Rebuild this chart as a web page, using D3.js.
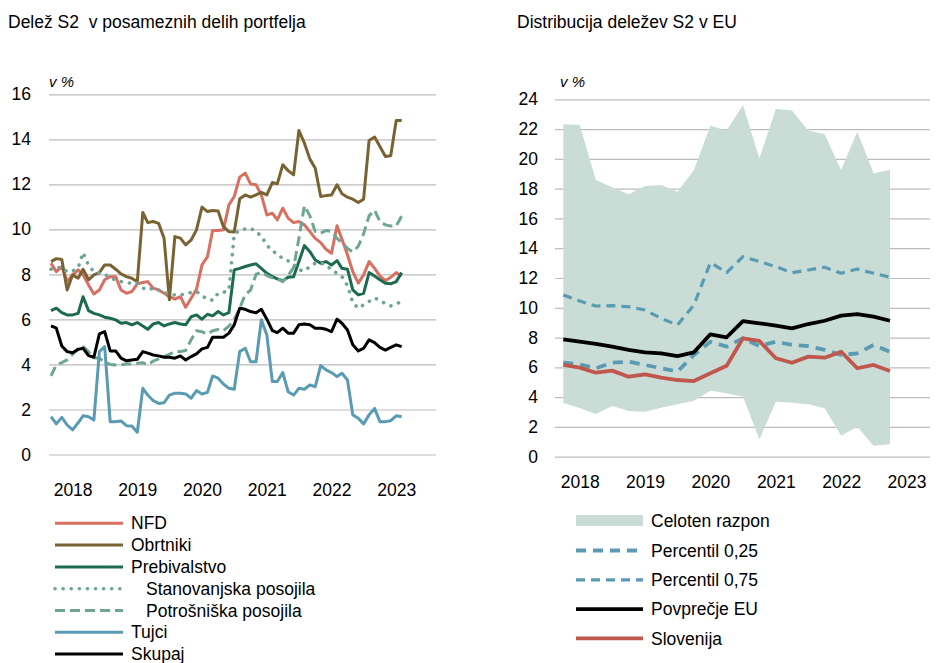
<!DOCTYPE html>
<html><head><meta charset="utf-8">
<script src="https://cdn.jsdelivr.net/npm/d3@7"></script>
<style>
body{margin:0;background:#fff}
svg{display:block}
text{font-family:"Liberation Sans",Arial,sans-serif;fill:#000}
</style>
</head><body>
<svg id="c" width="939" height="663"></svg>
<script>
// ---------- LEFT CHART DATA (monthly, Sep 2017 – Feb 2023) ----------
const months = d3.timeMonth.range(new Date(2017, 8, 1), new Date(2023, 2, 1));
const leftYTicks = [0, 2, 4, 6, 8, 10, 12, 14, 16];
const leftYears = [2018, 2019, 2020, 2021, 2022, 2023];
const nfd = [8.5,8.12,8.35,7.68,7.98,8.2,7.98,7.53,7.13,7.31,7.76,7.9,7.9,7.31,7.16,7.24,7.58,7.64,7.68,7.39,7.31,7.16,7.01,6.9,7.01,6.54,6.94,7.34,8.42,8.79,9.95,9.95,9.98,11.09,11.46,12.32,12.5,12.02,11.98,11.53,10.64,10.72,10.42,10.94,10.5,10.3,10.35,10.2,9.9,9.6,9.41,9.12,8.94,10.16,9.56,8.87,8.12,7.61,7.98,8.57,8.27,7.93,7.72,7.87,8.08,7.93];
const obrtniki = [8.57,8.7,8.66,7.31,7.98,7.83,8.23,7.76,7.98,8.08,8.42,8.42,8.23,8.02,7.9,7.83,7.68,10.75,10.3,10.35,10.27,9.61,6.87,9.68,9.61,9.31,9.53,9.98,10.99,10.79,10.84,10.82,10.12,9.9,9.88,11.36,11.53,11.43,11.53,11.64,11.53,12.08,12.02,12.87,12.61,12.42,14.39,13.83,13.12,12.72,11.46,11.5,11.53,11.98,11.58,11.43,11.34,11.19,11.34,13.95,14.1,13.68,13.24,13.27,14.84,14.84];
const prebivalstvo = [6.39,6.5,6.3,6.2,6.2,6.27,7.01,6.39,6.27,6.2,6.1,6.05,5.98,5.83,5.86,5.76,5.86,5.71,5.56,5.8,5.86,5.71,5.8,5.86,5.8,5.76,6.12,6.2,6.01,6.23,6.16,6.35,6.2,6.3,8.2,8.27,8.35,8.42,8.47,8.27,8.05,7.9,7.8,7.72,7.87,7.9,8.57,9.28,9.01,8.64,8.5,8.57,8.42,8.61,8.27,8.23,7.31,7.09,7.16,8.08,7.93,7.76,7.61,7.58,7.68,8.08];
const stanovanjska = [8.23,8.3,8.3,8.12,8.15,8.3,8.97,8.4,8.12,8.05,8.0,7.85,7.75,7.68,7.63,7.61,7.61,7.4,7.31,7.39,7.3,7.22,7.1,7.09,7.09,7.13,7.2,7.24,7.05,6.9,6.85,7.16,7.2,7.3,9.8,9.95,10.02,10.05,9.9,9.7,9.3,9.05,8.9,8.7,8.6,8.45,8.2,8.15,8.35,8.5,8.5,8.42,8.2,8.05,7.9,7.5,6.75,6.5,6.65,6.8,6.95,6.85,6.7,6.6,6.7,6.78];
const potrosniska = [3.49,3.98,4.08,4.2,4.45,4.7,4.79,4.57,4.3,4.28,4.1,4.0,3.98,3.98,4.02,4.02,4.05,4.08,3.98,4.15,4.25,4.35,4.45,4.57,4.57,4.62,5.1,5.5,5.45,5.35,5.5,5.55,5.5,5.7,6.0,6.5,7.1,7.3,8.0,8.1,7.95,7.85,7.8,7.68,7.95,8.3,9.6,11.05,10.6,9.9,9.83,9.95,9.9,9.6,9.4,9.15,9.0,9.25,9.8,10.6,10.85,10.35,10.2,10.15,10.15,10.6];
const tujci = [1.68,1.36,1.65,1.31,1.09,1.41,1.72,1.68,1.53,4.57,4.79,1.46,1.46,1.49,1.28,1.27,0.99,2.94,2.64,2.39,2.27,2.3,2.64,2.72,2.72,2.69,2.5,2.84,2.69,2.76,3.49,3.39,3.13,2.94,2.9,4.57,4.72,4.12,4.12,5.98,5.31,3.24,3.24,3.64,2.79,2.64,2.94,2.9,3.09,3.01,3.95,3.76,3.64,3.46,3.61,3.31,1.76,1.61,1.36,1.76,2.05,1.46,1.46,1.5,1.72,1.68];
const skupaj = [5.71,5.61,4.82,4.57,4.52,4.67,4.72,4.39,4.32,5.36,5.46,4.6,4.6,4.28,4.16,4.2,4.23,4.57,4.5,4.42,4.38,4.32,4.32,4.28,4.38,4.2,4.35,4.47,4.69,4.76,5.21,5.21,5.21,5.39,5.76,6.5,6.45,6.35,6.3,6.45,6.01,5.5,5.41,5.61,5.39,5.39,5.76,5.8,5.76,5.61,5.61,5.56,5.46,6.01,5.83,5.53,4.87,4.6,4.72,5.09,4.97,4.76,4.64,4.76,4.87,4.79];

// ---------- RIGHT CHART DATA (quarterly, Q4 2017 – Q4 2022) ----------
const quarters = d3.timeMonth.every(3).range(new Date(2017, 9, 1), new Date(2022, 10, 1));
const rightYTicks = [0, 2, 4, 6, 8, 10, 12, 14, 16, 18, 20, 22, 24];
const rightYears = [2018, 2019, 2020, 2021, 2022, 2023];
const euMax = [22.32,22.28,18.58,18.1,17.62,18.18,18.25,17.8,19.25,22.23,21.9,23.62,20.04,23.35,23.24,21.9,21.65,19.25,21.83,19.03,19.25];
const euMin = [3.63,3.25,2.87,3.4,3.07,3.02,3.29,3.52,3.76,4.43,4.26,4.03,1.17,3.69,3.63,3.52,3.25,1.41,2.01,0.74,0.83];
const p25 = [6.31,6.2,5.94,6.31,6.38,6.16,5.94,5.71,6.83,7.72,7.39,7.95,7.43,7.72,7.5,7.43,7.17,6.83,6.94,7.5,7.05];
const p75 = [10.86,10.45,10.12,10.14,10.07,9.85,9.29,8.84,10.19,13.03,12.36,13.43,13.1,12.76,12.36,12.54,12.72,12.32,12.6,12.32,12.05];
const euMean = [7.88,7.72,7.57,7.39,7.17,7.01,6.94,6.76,7.01,8.22,8.02,9.11,8.96,8.8,8.62,8.91,9.13,9.47,9.58,9.4,9.13];
const slovenija = [6.16,5.98,5.64,5.78,5.37,5.53,5.31,5.15,5.08,5.6,6.11,7.95,7.77,6.61,6.31,6.72,6.65,7.05,5.94,6.16,5.76];

const svg = d3.select("#c");
const GRID = "#bcbcbc";
const FS = 17.5;

// ================= LEFT CHART =================
const lx = d3.scaleTime().domain([months[0], months[months.length - 1]]).range([51, 401.7]);
const ly = d3.scaleLinear().domain([0, 16]).range([454.5, 94.3]);

svg.append("text").attr("x", 8).attr("y", 28).attr("xml:space", "preserve")
  .style("font-size", "17.5px").style("white-space", "pre")
  .text("Delež S2  v posameznih delih portfelja");
svg.append("text").attr("x", 49).attr("y", 87).style("font-size", "15px").style("font-style", "italic")
  .text("v %");

const lyAxis = svg.append("g").attr("transform", "translate(49,0)")
  .call(d3.axisLeft(ly).tickValues(leftYTicks).tickSize(-387).tickPadding(18).tickFormat(d3.format("d")));
lyAxis.select(".domain").remove();
lyAxis.selectAll("line").attr("stroke", GRID).attr("stroke-width", 1.2);
lyAxis.selectAll("text").style("font-size", FS + "px").attr("font-family", null);

const lxAxis = svg.append("g").attr("transform", "translate(0,454.5)")
  .call(d3.axisBottom(lx).tickValues(leftYears.map(y => new Date(y, 0, 1))).tickSize(0).tickPadding(29).tickFormat(d3.timeFormat("%Y")));
lxAxis.select(".domain").remove();
lxAxis.selectAll("text").style("font-size", FS + "px").attr("font-family", null);

const leftSeries = [
  {name: "NFD", data: nfd, color: "#d86f61", w: 3, dash: null},
  {name: "Obrtniki", data: obrtniki, color: "#7a6333", w: 3, dash: null},
  {name: "Prebivalstvo", data: prebivalstvo, color: "#1d6b4f", w: 3, dash: null},
  {name: "Stanovanjska posojila", data: stanovanjska, color: "#6fa596", w: 3.6, dash: "0.1,8", cap: "round", indent: true},
  {name: "Potrošniška posojila", data: potrosniska, color: "#6fa596", w: 3, dash: "10,5", indent: true},
  {name: "Tujci", data: tujci, color: "#5a9bb4", w: 3, dash: null},
  {name: "Skupaj", data: skupaj, color: "#000000", w: 3, dash: null}
];
const lline = d3.line().x((d, i) => lx(months[i])).y(d => ly(d));
leftSeries.forEach(s => {
  svg.append("path").datum(s.data).attr("d", lline)
    .attr("fill", "none").attr("stroke", s.color).attr("stroke-width", s.w)
    .attr("stroke-linejoin", "round")
    .attr("stroke-linecap", s.cap || "butt")
    .attr("stroke-dasharray", s.dash);
});

// Left legend
leftSeries.forEach((s, i) => {
  const y = 523.3 + i * 21.8;
  svg.append("line").attr("x1", 55).attr("x2", 123).attr("y1", y).attr("y2", y)
    .attr("stroke", s.color).attr("stroke-width", s.w)
    .attr("stroke-linecap", s.cap || "butt")
    .attr("stroke-dasharray", s.dash);
  svg.append("text").attr("x", s.indent ? 146 : 131).attr("y", y).attr("dy", "0.35em")
    .style("font-size", FS + "px").text(s.name);
});

// ================= RIGHT CHART =================
const rx = d3.scaleTime().domain([quarters[0], quarters[quarters.length - 1]]).range([563.3, 890]);
const ry = d3.scaleLinear().domain([0, 24]).range([456.7, 99.3]);

svg.append("text").attr("x", 517).attr("y", 28).style("font-size", "17.5px")
  .text("Distribucija deležev S2 v EU");
svg.append("text").attr("x", 560).attr("y", 87).style("font-size", "15px").style("font-style", "italic")
  .text("v %");

const ryAxis = svg.append("g").attr("transform", "translate(555,0)")
  .call(d3.axisLeft(ry).tickValues(rightYTicks).tickSize(-375).tickPadding(17).tickFormat(d3.format("d")));
ryAxis.select(".domain").remove();
ryAxis.selectAll("line").attr("stroke", GRID).attr("stroke-width", 1.2);
ryAxis.selectAll("text").style("font-size", FS + "px").attr("font-family", null);

const rxAxis = svg.append("g").attr("transform", "translate(0,456.7)")
  .call(d3.axisBottom(rx).tickValues(rightYears.map(y => new Date(y, 0, 1))).tickSize(0).tickPadding(19).tickFormat(d3.timeFormat("%Y")));
rxAxis.select(".domain").remove();
rxAxis.selectAll("text").style("font-size", FS + "px").attr("font-family", null);

const AREA = "#c9ddd6";
const area = d3.area().x((d, i) => rx(quarters[i])).y0((d, i) => ry(euMin[i])).y1(d => ry(d));
svg.append("path").datum(euMax).attr("d", area).attr("fill", AREA);

const rightSeries = [
  {name: "Percentil 0,25", data: p25, color: "#5a9bb4", w: 3.8, dash: "10,7"},
  {name: "Percentil 0,75", data: p75, color: "#5a9bb4", w: 3.2, dash: "9,6"},
  {name: "Povprečje EU", data: euMean, color: "#000000", w: 3.8, dash: null},
  {name: "Slovenija", data: slovenija, color: "#c0564c", w: 3.8, dash: null}
];
const rline = d3.line().x((d, i) => rx(quarters[i])).y(d => ry(d));
rightSeries.forEach(s => {
  svg.append("path").datum(s.data).attr("d", rline)
    .attr("fill", "none").attr("stroke", s.color).attr("stroke-width", s.w)
    .attr("stroke-linejoin", "round").attr("stroke-dasharray", s.dash);
});

// Right legend
svg.append("rect").attr("x", 576).attr("y", 515).attr("width", 67).attr("height", 11).attr("fill", AREA);
svg.append("text").attr("x", 651).attr("y", 520.7).attr("dy", "0.35em").style("font-size", FS + "px").text("Celoten razpon");
rightSeries.forEach((s, i) => {
  const y = 550.5 + i * 29.3;
  svg.append("line").attr("x1", 576).attr("x2", 643).attr("y1", y).attr("y2", y)
    .attr("stroke", s.color).attr("stroke-width", s.w).attr("stroke-dasharray", s.dash);
  svg.append("text").attr("x", 651).attr("y", y).attr("dy", "0.35em")
    .style("font-size", FS + "px").text(s.name);
});
</script>
</body></html>
